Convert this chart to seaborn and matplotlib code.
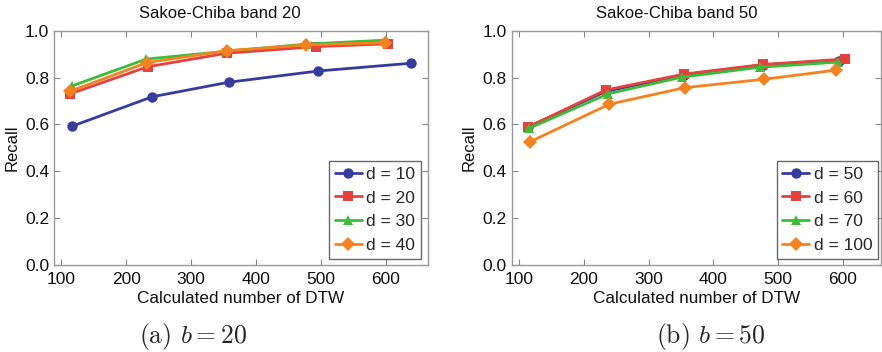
import numpy as np
import pandas as pd
import matplotlib
matplotlib.use("Agg")
import matplotlib.pyplot as plt
import seaborn as sns

# ---- data ----
left_labels = ["d = 10", "d = 20", "d = 30", "d = 40"]
left_x = {
    "d = 10": [117, 240, 358, 496, 639],
    "d = 20": [113, 233, 355, 493, 603],
    "d = 30": [116, 231, 354, 479, 601],
    "d = 40": [113, 232, 356, 478, 599],
}
left_y = {
    "d = 10": [0.593, 0.718, 0.780, 0.828, 0.861],
    "d = 20": [0.730, 0.846, 0.904, 0.932, 0.944],
    "d = 30": [0.764, 0.879, 0.912, 0.943, 0.960],
    "d = 40": [0.741, 0.864, 0.915, 0.939, 0.949],
}
right_labels = ["d = 50", "d = 60", "d = 70", "d = 100"]
right_x = {
    "d = 50": [113, 234, 355, 476, 594],
    "d = 60": [113, 234, 355, 477, 603],
    "d = 70": [115, 238, 352, 472, 593],
    "d = 100": [117, 239, 356, 479, 590],
}
right_y = {
    "d = 50": [0.588, 0.741, 0.811, 0.854, 0.872],
    "d = 60": [0.588, 0.747, 0.815, 0.856, 0.879],
    "d = 70": [0.583, 0.731, 0.802, 0.844, 0.866],
    "d = 100": [0.526, 0.686, 0.757, 0.793, 0.832],
}
titles = ["Sakoe-Chiba band 20", "Sakoe-Chiba band 50"]
captions = ["(a) $b = 20$", "(b) $b = 50$"]
xticks = [100, 200, 300, 400, 500, 600]
yticks = [0.0, 0.2, 0.4, 0.6, 0.8, 1.0]

colors = ["#363c9e", "#e8403d", "#3bbd3b", "#f5821f"]
markers = ["o", "s", "^", "D"]

sns.set_theme(style="white")
plt.rcParams["font.family"] = ["Liberation Sans", "DejaVu Sans"]
plt.rcParams["mathtext.fontset"] = "cm"

W, H = 882, 352
fig = plt.figure(figsize=(W / 100, H / 100), dpi=100)
axes = [fig.add_axes([54 / W, 87 / H, 373.7 / W, 234.3 / H]),
        fig.add_axes([511.7 / W, 87 / H, 369.3 / W, 234.3 / H])]

title_cx = [220, 677]
caption_cx = [193, 711]
leg_anchor = [(0.982, 0.026), (0.992, 0.026)]

panels = [(left_labels, left_x, left_y), (right_labels, right_x, right_y)]
for i, (ax, (labels, xs, ys)) in enumerate(zip(axes, panels)):
    rows = []
    for lab in labels:
        for xv, yv in zip(xs[lab], ys[lab]):
            rows.append({"x": xv, "y": yv, "d": lab})
    df = pd.DataFrame(rows)
    sns.lineplot(data=df, x="x", y="y", hue="d", style="d", hue_order=labels,
                 style_order=labels, palette=colors, markers=markers, dashes=False,
                 linewidth=2.0, markersize=7.5, markeredgewidth=0, ax=ax,
                 estimator=None, sort=False)
    ax.set_xlim(88.5, 665 if i == 0 else 659)
    ax.set_ylim(0, 1.0)
    ax.set_xticks(xticks)
    ax.set_yticks(yticks)
    ax.set_yticklabels([f"{v:.1f}" for v in yticks])
    ax.tick_params(direction="in", length=4, width=0.8, color="#888888",
                   top=True, right=True, bottom=True, left=True,
                   labelsize=12.5, labelcolor="#111111")
    ax.tick_params(axis="x", pad=5)
    ax.tick_params(axis="y", pad=3.5)
    for sp in ax.spines.values():
        sp.set_color("#999999")
        sp.set_linewidth(1.0)
    ax.set_xlabel("Calculated number of DTW", fontsize=12.3, labelpad=3, color="#111111")
    ax.set_ylabel("Recall", fontsize=12, labelpad=4, color="#111111")
    fig.text(title_cx[i] / W, 1 - 13 / H, titles[i], ha="center", va="center",
             fontsize=12, color="#111111")
    leg = ax.legend(loc="lower right", bbox_to_anchor=leg_anchor[i],
                    fontsize=12.5, frameon=True, fancybox=False,
                    handlelength=1.55, handletextpad=0.25, borderpad=0.33,
                    labelspacing=0.5, borderaxespad=0.0)
    leg.get_frame().set_edgecolor("#444444")
    leg.get_frame().set_linewidth(1.0)
    for h in leg.legend_handles:
        h.set_linewidth(2.0)
    fig.text(caption_cx[i] / W, 1 - 337 / H, captions[i], ha="center",
             va="center", fontsize=18.5, family="cmr10")

fig.savefig("out.png", dpi=100)
